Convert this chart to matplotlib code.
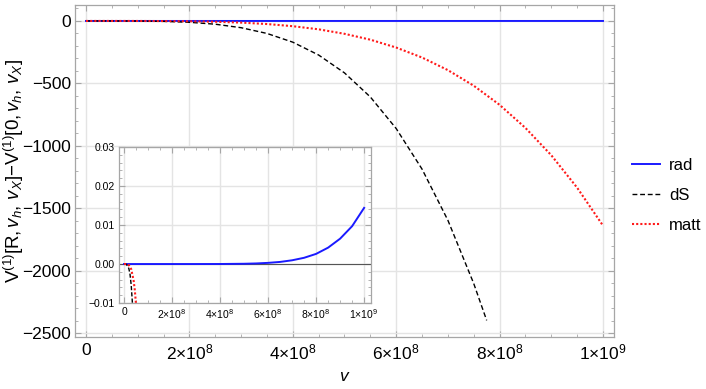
import matplotlib
matplotlib.use("Agg")
import matplotlib.pyplot as plt
from matplotlib.ticker import MultipleLocator, FixedLocator
import numpy as np

plt.rcParams['font.family'] = ['Liberation Sans', 'DejaVu Sans']
plt.rcParams['mathtext.fontset'] = 'custom'
plt.rcParams['mathtext.rm'] = 'Liberation Sans'
plt.rcParams['mathtext.it'] = 'Liberation Sans:italic'
plt.rcParams['axes.unicode_minus'] = True

# values (v in units of 1e8)
v_rad = [0, 1, 2, 3, 4, 5, 5.5, 6, 6.5, 7, 7.5, 8, 8.5, 9, 9.5, 10]
rad = [0, 0, 0, 0, 0.00001, 0.00007, 0.00015, 0.0003, 0.00054, 0.00096,
       0.0016, 0.0026, 0.0042, 0.0065, 0.0097, 0.0144]

v_ds = [0, 0.1, 0.2, 0.25, 0.3, 0.35, 0.4, 0.5, 1, 1.5, 2, 2.5, 3, 3.5, 4,
        4.5, 5, 5.5, 6, 6.5, 7, 7.5, 7.75]
ds = [0, -0.00007, -0.0011, -0.0026, -0.0054, -0.010, -0.017, -0.04, -0.67,
      -3.4, -10.6, -26, -54, -100, -170, -273, -416, -609, -862, -1187,
      -1597, -2104, -2399]

v_matt = [0, 0.1, 0.2, 0.3, 0.4, 0.45, 0.5, 0.55, 0.6, 1, 1.5, 2, 2.5, 3,
          3.5, 4, 4.5, 5, 5.5, 6, 6.5, 7, 7.5, 8, 8.5, 9, 9.5, 10]
matt = [0, -0.000016, -0.00026, -0.0013, -0.0042, -0.0067, -0.0103, -0.015,
        -0.021, -0.16, -0.83, -2.6, -6.4, -13.3, -24.6, -42, -67, -103, -150,
        -213, -293, -394, -519, -672, -857, -1076, -1336, -1640]

x_ticks = [0, 2e8, 4e8, 6e8, 8e8, 1e9]
x_ticklabels = ['0', '2×10$^{8}$', '4×10$^{8}$', '6×10$^{8}$', '8×10$^{8}$', '1×10$^{9}$']
y_ticks = [0, -500, -1000, -1500, -2000, -2500]
inset_y_ticks = [-0.01, 0, 0.01, 0.02, 0.03]
inset_y_labels = ['\u22120.01', '0.00', '0.01', '0.02', '0.03']

frame_col = '#a6a6a6'
grid_col = '#e4e4e4'
blue = '#1a1aff'
red = '#ff1a1a'


def style_axes(ax, size):
    for s in ax.spines.values():
        s.set_color(frame_col)
        s.set_linewidth(0.9)
    ax.tick_params(which='both', direction='in', top=True, right=True,
                   color=frame_col, labelsize=size, pad=4)
    ax.tick_params(which='major', length=4, width=0.8)
    ax.tick_params(which='minor', length=2.2, width=0.6)
    ax.grid(True, which='major', color=grid_col, lw=1.0)
    ax.set_axisbelow(True)


fig = plt.figure(figsize=(7.06, 3.89), dpi=100)
ax = fig.add_axes([0.1062, 0.1337, 0.7635, 0.8535])

ax.plot(np.array(v_rad) * 1e8, rad, color=blue, lw=1.4, label='rad')
ax.plot(np.array(v_ds) * 1e8, ds, color='black', lw=1.0, ls=(0, (3.5, 2)), label='dS')
ax.plot(np.array(v_matt) * 1e8, matt, color=red, lw=1.5, ls=(0, (1, 1)), label='matt')

ax.set_xlim(-2.13e7, 1.0213e9)
ax.set_ylim(-2532, 128)
ax.xaxis.set_major_locator(FixedLocator(x_ticks))
ax.set_xticklabels(x_ticklabels)
ax.xaxis.set_minor_locator(MultipleLocator(5e7))
ax.yaxis.set_major_locator(FixedLocator(y_ticks))
ax.yaxis.set_minor_locator(MultipleLocator(100))
style_axes(ax, 12.5)
ax.tick_params(axis='y', pad=3)
ax.set_xlabel('$v$', fontsize=12.5, labelpad=5)
ax.set_ylabel(r'V$^{(1)}$[R,$\,v_h,\,v_X$]$-$V$^{(1)}$[0,$\,v_h,\,v_X$]', fontsize=13.5)
ax.yaxis.set_label_coords(-0.09, 0.5)

ax.legend(loc='center left', bbox_to_anchor=(1.033, 0.426), frameon=False,
          fontsize=12, handlelength=1.7, handletextpad=0.55, labelspacing=0.9,
          borderpad=0, borderaxespad=0)

# inset
ins = fig.add_axes([0.1686, 0.221, 0.357, 0.401])
ins.set_facecolor('white')
ins.axhline(0, color='#555555', lw=0.8, zorder=1)
ins.plot(np.array(v_rad) * 1e8, rad, color=blue, lw=1.4, zorder=3)
ins.plot(np.array(v_ds) * 1e8, ds, color='black', lw=1.0, ls=(0, (3, 1.5)), zorder=3)
ins.plot(np.array(v_matt) * 1e8, matt, color=red, lw=1.5, ls=(0, (1, 1)), zorder=3)
ins.set_xlim(-2.07e7, 1.029e9)
ins.set_ylim(-0.01, 0.03)
ins.xaxis.set_major_locator(FixedLocator(x_ticks))
ins.set_xticklabels(x_ticklabels)
ins.xaxis.set_minor_locator(MultipleLocator(5e7))
ins.yaxis.set_major_locator(FixedLocator(inset_y_ticks))
ins.set_yticklabels(inset_y_labels)
ins.yaxis.set_minor_locator(MultipleLocator(0.002))
style_axes(ins, 7.5)
ins.tick_params(pad=3)

fig.savefig('out.png', dpi=100)
